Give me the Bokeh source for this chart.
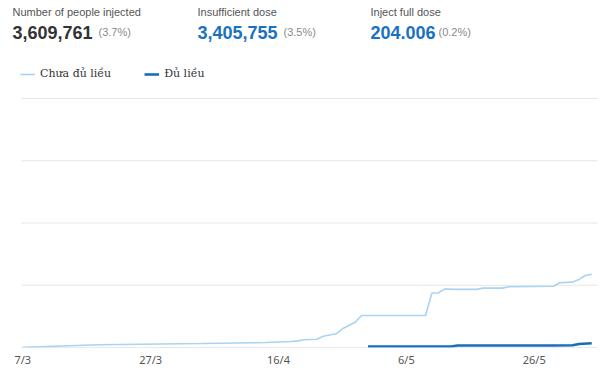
import pandas as pd
from bokeh.plotting import figure
from bokeh.models import Label, Legend, LegendItem, FixedTicker, Range1d
from bokeh.embed import file_html
from bokeh.resources import INLINE

start_date = "2021-03-07"

chua_dates = ["2021-03-07", "2021-03-19", "2021-04-04", "2021-04-14", "2021-04-18", "2021-04-19",
              "2021-04-20", "2021-04-22", "2021-04-23", "2021-04-25", "2021-04-26", "2021-04-28",
              "2021-04-29", "2021-05-09", "2021-05-10", "2021-05-11", "2021-05-12", "2021-05-14",
              "2021-05-17", "2021-05-18", "2021-05-21", "2021-05-22", "2021-05-29", "2021-05-30",
              "2021-06-01", "2021-06-02", "2021-06-03", "2021-06-04"]
chua_values = [10000, 130000, 190000, 240000, 290000, 320000,
               370000, 400000, 545000, 660000, 900000, 1220000,
               1540000, 1540000, 2630000, 2630000, 2820000, 2800000,
               2800000, 2860000, 2860000, 2925000, 2955000, 3120000,
               3150000, 3280000, 3470000, 3530000]

du_dates = ["2021-04-30", "2021-05-13", "2021-05-14", "2021-05-29", "2021-06-01", "2021-06-02", "2021-06-04"]
du_values = [45000, 50000, 95000, 100000, 110000, 170000, 204006]

tick_dates = ["2021-03-07", "2021-03-27", "2021-04-16", "2021-05-06", "2021-05-26"]
tick_labels = ["7/3", "27/3", "16/4", "6/5", "26/5"]

grid_values = [3000000, 6000000, 9000000, 12000000]

header_titles = ["Number of people injected", "Insufficient dose", "Inject full dose"]
header_numbers = ["3,609,761", "3,405,755", "204.006"]
header_pcts = ["(3.7%)", "(3.5%)", "(0.2%)"]

t0 = pd.Timestamp(start_date)
def to_days(ds):
    return [(pd.Timestamp(d) - t0).days for d in ds]

cx = to_days(chua_dates)
dx = to_days(du_dates)
tx = to_days(tick_dates)

AX_START, AX_END = -0.2, 89.9

W, H = 600, 377
p = figure(width=W, height=H, output_backend="svg", toolbar_location=None,
           y_axis_location=None, x_range=Range1d(-3.48, AX_END), y_range=Range1d(0, 16722900),
           min_border_left=0, min_border_right=3, min_border_top=0, min_border_bottom=30)
p.outline_line_color = None
p.background_fill_color = "white"
p.border_fill_color = "white"

LIGHT = "#a9d3f2"
DARK = "#1a6dba"

p.xgrid.visible = False
p.ygrid.visible = False
n = len(grid_values)
p.segment(x0=[AX_START] * n, x1=[AX_END] * n, y0=grid_values, y1=grid_values,
          line_color="#e6e6e6", line_width=1)
p.segment(x0=[AX_START], x1=[AX_END], y0=[0], y1=[0], line_color="#ccd6eb", line_width=1)

r1 = p.line(cx, chua_values, line_color=LIGHT, line_width=1.6)
r2 = p.line(dx, du_values, line_color=DARK, line_width=2.6)

ax = p.xaxis[0]
ax.ticker = FixedTicker(ticks=tx)
ax.major_label_overrides = {t: l for t, l in zip(tx, tick_labels)}
ax.major_tick_line_color = None
ax.minor_tick_line_color = None
ax.major_tick_out = 0
ax.major_tick_in = 0
ax.axis_line_color = None
ax.major_label_text_color = "#555555"
ax.major_label_text_font = "Noto Sans"
ax.major_label_text_font_size = "11px"
ax.major_label_standoff = 4

legend = Legend(items=[LegendItem(label="Chưa đủ liều", renderers=[r1]),
                       LegendItem(label="Đủ liều", renderers=[r2])],
                orientation="horizontal", location=(20, 267),
                border_line_color=None, background_fill_alpha=0,
                glyph_width=15, glyph_height=12, label_standoff=5, spacing=33,
                padding=0, margin=0, label_height=12,
                label_text_font="DejaVu Serif", label_text_font_size="11px",
                label_text_color="#333333")
p.add_layout(legend, "center")

FB = 347  # frame bottom in canvas pixels
xs = [12, 197, 370]
num_colors = ["#333333", "#1872c2", "#1872c2"]
pct_offsets = [86, 86, 68]
for i in range(3):
    p.add_layout(Label(x=xs[i], y=FB - 11, x_units="screen", y_units="screen",
                       text=header_titles[i], text_font="Liberation Sans",
                       text_font_size="11px", text_color="#555555", text_baseline="alphabetic"))
    p.add_layout(Label(x=xs[i], y=FB - 32, x_units="screen", y_units="screen",
                       text=header_numbers[i], text_font="Liberation Sans", text_font_style="bold",
                       text_font_size="18px", text_color=num_colors[i], text_baseline="alphabetic"))
    p.add_layout(Label(x=xs[i] + pct_offsets[i], y=FB - 31, x_units="screen", y_units="screen",
                       text=header_pcts[i], text_font="Liberation Sans",
                       text_font_size="11px", text_color="#8a8a8a", text_baseline="alphabetic"))

open("out.html", "w").write(file_html(p, INLINE))
